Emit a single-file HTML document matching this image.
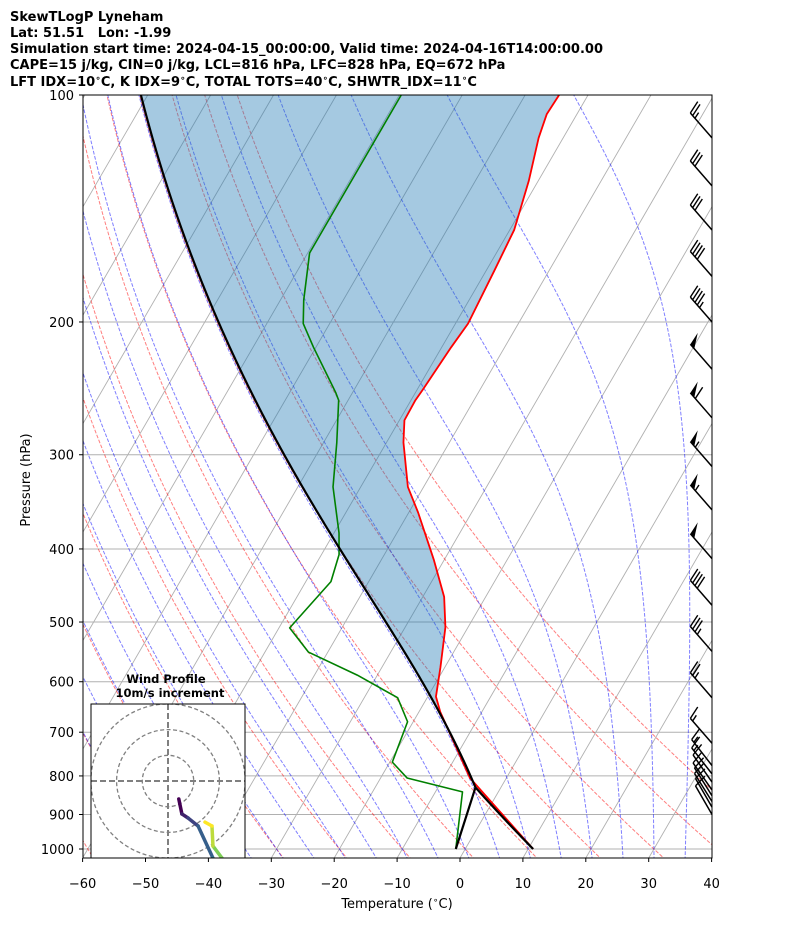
<!DOCTYPE html>
<html><head><meta charset="utf-8"><style>
html,body{margin:0;padding:0;background:#fff;}
svg{display:block;font-family:"DejaVu Sans","Liberation Sans",sans-serif;}
.pre{white-space:pre;}
</style></head><body>
<svg id="chart" width="794" height="937" viewBox="0 0 794 937" xmlns="http://www.w3.org/2000/svg">
<defs>
<clipPath id="plotClip"><rect x="83" y="95" width="629" height="763"/></clipPath>
<clipPath id="hodoClip"><rect x="91" y="704" width="154" height="154"/></clipPath>
</defs>
<g font-weight="bold" font-size="13" fill="#000">
<text x="10" y="21">SkewTLogP Lyneham</text>
<text x="10" y="37" class="pre">Lat: 51.51   Lon: -1.99</text>
<text x="10" y="53">Simulation start time: 2024-04-15_00:00:00, Valid time: 2024-04-16T14:00:00.00</text>
<text x="10" y="69">CAPE=15 j/kg, CIN=0 j/kg, LCL=816 hPa, LFC=828 hPa, EQ=672 hPa</text>
<text x="10" y="86">LFT IDX=10<tspan font-size="9" dy="-5">∘</tspan><tspan dy="5">C, K IDX=9</tspan><tspan font-size="9" dy="-5">∘</tspan><tspan dy="5">C, TOTAL TOTS=40</tspan><tspan font-size="9" dy="-5">∘</tspan><tspan dy="5">C, SHWTR_IDX=11</tspan><tspan font-size="9" dy="-5">∘</tspan><tspan dy="5">C</tspan></text>
</g>
<rect x="83" y="95" width="629" height="763" fill="#fff"/>
<g id="bg" clip-path="url(#plotClip)"></g>
<g id="series" clip-path="url(#plotClip)"></g>
<g id="barbs"></g>
<rect x="83" y="95" width="629" height="763" fill="none" stroke="#000" stroke-width="1"/>
<g id="axes" font-size="13" fill="#000"></g>
<text x="397" y="908" font-size="13" text-anchor="middle">Temperature (<tspan font-size="9" dy="-5">∘</tspan><tspan dy="5">C)</tspan></text>
<text transform="translate(30,480) rotate(-90)" font-size="13" text-anchor="middle">Pressure (hPa)</text>
<g id="hodo">
<text x="166" y="683" font-size="11.5" font-weight="bold" text-anchor="middle">Wind Profile</text>
<text x="170" y="697" font-size="11.5" font-weight="bold" text-anchor="middle">10m/s increment</text>
<rect x="91" y="704" width="154" height="154" fill="#fff" stroke="none"/>
</g>
</svg>
<script>
// ---- data ----
const envP=[1000,805,658,628,574,508,463,414,358,331,289,270,254,246,216,201,171,151,130,114,106,100];
const envT=[10.8,-5.8,-16.6,-18.7,-20.7,-23.6,-26.6,-31.6,-38.5,-42.5,-47.3,-49.2,-49.3,-49.1,-48.5,-48.0,-48.7,-49.3,-51.5,-53.9,-54.8,-54.6];
const dewP=[1000,840,805,767,678,630,588,548,509,442,407,381,331,289,254,248,216,201,187,162,144,115,100];
const dewT=[-1.5,-5.7,-15.8,-19.6,-20.9,-24.7,-33.2,-43.1,-48.3,-46.0,-47.2,-49.2,-54.4,-57.9,-61.5,-62.7,-70.4,-74.2,-76.3,-79.7,-79.7,-79.7,-79.7];
const barbP=[114,132,151,174,200,231,268,311,355,412,475,547,630,724,775,795,815,835,850,865,880,900];
const barbSpd=[25,30,30,40,45,50,60,55,55,50,40,35,25,15,15,15,10,10,10,10,10,10];
const barbDir=[319,319,319,319,319,319,319,319,319,319,319,319,319,319,322,322,325,325,328,328,330,330];
const hodoU=[4.2,5.4,7.8,11.7,17.5,25,28,24,21,17.5,17.1,14.4];
const hodoV=[-7.0,-12.8,-14.4,-17.5,-30,-45,-45,-38,-30,-25.3,-17.5,-16];
const xTicks=[-60,-50,-40,-30,-20,-10,0,10,20,30,40];
const yTicks=[100,200,300,400,500,600,700,800,900,1000];
const dryT0=[-60,-50,-40,-30,-20,-10,0,10,20,30,40,50];
const moistT0=[-50,-45,-40,-35,-30,-25,-20,-15,-10,-5,0,5,10,15,20,25,30,35];

// ---- scales ----
const NS="http://www.w3.org/2000/svg";
const SK=0.58;
function Y(p){return 95+754*Math.log10(p/100);}
function X(T,p){return 460+6.29*T+SK*(858-Y(p));}
function mk(tag,attrs,parent){const e=document.createElementNS(NS,tag);for(const k in attrs)e.setAttribute(k,attrs[k]);parent.appendChild(e);return e;}
function pathD(pts){return pts.map((q,i)=>(i?'L':'M')+q[0].toFixed(2)+','+q[1].toFixed(2)).join('');}
const bg=document.getElementById('bg'),series=document.getElementById('series'),axes=document.getElementById('axes');
const PBOT=1035;

// thermo
const Rd=287.04,Cp=1005.7,Lv=2.501e6,eps=0.622;
function es(Tk){const c=Tk-273.15;return 6.112*Math.exp(17.67*c/(c+243.5));}
function dTdp(Tk,p){const e=es(Tk);const rs=eps*e/(p-e);return (Rd*Tk+Lv*rs)/(p*(Cp+Lv*Lv*rs*eps/(Rd*Tk*Tk)));}
function moistPath(Tk0,p0,pEnd,step){const out=[[p0,Tk0]];let T=Tk0,p=p0;const s=pEnd<p0?-Math.abs(step):Math.abs(step);
 while((s<0&&p>pEnd)||(s>0&&p<pEnd)){let h=s;if(s<0&&p+h<pEnd)h=pEnd-p;if(s>0&&p+h>pEnd)h=pEnd-p;
  const k1=dTdp(T,p),k2=dTdp(T+h/2*k1,p+h/2),k3=dTdp(T+h/2*k2,p+h/2),k4=dTdp(T+h*k3,p+h);
  T+=h/6*(k1+2*k2+2*k3+k4);p+=h;out.push([p,T]);}return out;}

// pressure grid lines
yTicks.forEach(p=>{const l=mk('line',{x1:83,x2:712,y1:Y(p),y2:Y(p),stroke:'#b0b0b0','stroke-width':1},bg);

});
// isotherms
for(let T=-160;T<=50;T+=10){const l=mk('line',{x1:X(T,PBOT),y1:Y(PBOT),x2:X(T,100),y2:Y(100),stroke:'#b0b0b0','stroke-width':0.9},bg);

}
// dry adiabats
dryT0.forEach(t0=>{const pts=[];for(let p=PBOT;p>=99;p-=5){const T=(t0+273.15)*Math.pow(p/1000,0.2857)-273.15;pts.push([X(T,p),Y(p)]);}
const l=mk('path',{d:pathD(pts),fill:'none',stroke:'#ff0000','stroke-opacity':0.5,'stroke-width':1,'stroke-dasharray':'3.7 1.6'},bg);

});
// moist adiabats
moistT0.forEach(t0=>{const up=moistPath(t0+273.15,1000,100,-5);const dn=moistPath(t0+273.15,1000,PBOT,5);
const all=dn.reverse().concat(up.slice(1));const pts=all.map(q=>[X(q[1]-273.15,q[0]),Y(q[0])]);
const l=mk('path',{d:pathD(pts),fill:'none',stroke:'#0000ff','stroke-opacity':0.5,'stroke-width':1,'stroke-dasharray':'3.7 1.6'},bg);

});

// parcel
const T0=envT[0]+273.15,Td0=dewT[0]+273.15,p0=envP[0];
const Tlcl=1/(1/(Td0-56)+Math.log(T0/Td0)/800)+56;
const plcl=p0*Math.pow(Tlcl/T0,1/0.2857);
function parcelT(p){return T0*Math.pow(p/p0,0.2857)-273.15;}
const moistPar=moistPath(Tlcl,plcl,100,-2);
function parcelAt(p){if(p>=plcl)return parcelT(p);for(let i=1;i<moistPar.length;i++){if(moistPar[i][0]<=p){const a=moistPar[i-1],b=moistPar[i];const f=(Math.log(p)-Math.log(a[0]))/(Math.log(b[0])-Math.log(a[0]));return a[1]+f*(b[1]-a[1])-273.15;}}return moistPar[moistPar.length-1][1]-273.15;}
function interp(P,V,p){for(let i=1;i<P.length;i++){if(P[i]<=p){const f=(Math.log(p)-Math.log(P[i-1]))/(Math.log(P[i])-Math.log(P[i-1]));return V[i-1]+f*(V[i]-V[i-1]);}}return V[V.length-1];}

// shading between parcel and environment
let run=[];const runs=[];
for(let p=1000;p>=100;p-=1){const te=interp(envP,envT,p),tp=parcelAt(p);if(te>tp+0.05){run.push([p,te,tp]);}else if(run.length){runs.push(run);run=[];}}
if(run.length)runs.push(run);
runs.forEach(r=>{const a=r.map(q=>[X(q[1],q[0]),Y(q[0])]);const b=r.slice().reverse().map(q=>[X(q[2],q[0]),Y(q[0])]);
const s=mk('path',{d:pathD(a.concat(b))+'Z',fill:'#1f77b4','fill-opacity':0.4,stroke:'none'},series);

});

// env temperature
const tl=mk('path',{d:pathD(envP.map((p,i)=>[X(envT[i],p),Y(p)])),fill:'none',stroke:'#ff0000','stroke-width':1.8,'stroke-linejoin':'round'},series);


const dl=mk('path',{d:pathD(dewP.map((p,i)=>[X(dewT[i],p),Y(p)])),fill:'none',stroke:'#008000','stroke-width':1.6,'stroke-linejoin':'round'},series);


// parcel profile
const pp=[];for(let p=1000;p>plcl;p-=5)pp.push([X(parcelT(p),p),Y(p)]);
moistPar.forEach(q=>pp.push([X(q[1]-273.15,q[0]),Y(q[0])]));
const pl=mk('path',{d:pathD(pp),fill:'none',stroke:'#000','stroke-width':2.2,'stroke-linejoin':'round'},series);


const pdl=mk('path',{d:pathD([[X(dewT[0],1000),Y(1000)],[X(Tlcl-273.15,plcl),Y(plcl)]]),fill:'none',stroke:'#000','stroke-width':2.2},series);



// wind barbs
const barbs=document.getElementById('barbs');
barbP.forEach((p,i)=>{const d=barbDir[i]*Math.PI/180;const sx=Math.sin(d),sy=-Math.cos(d);const px=-sy,py=sx;
 const bx=712,by=Y(p),L=33;const tx=bx+sx*L,ty=by+sy*L;const g=mk('g',{},barbs);
 
 
 mk('line',{x1:bx,y1:by,x2:tx,y2:ty,stroke:'#000','stroke-width':1.5},g);
 let spd=Math.round(barbSpd[i]/5)*5;let pos=0;const fa=13,fb=3.7;
 while(spd>=50){const ax=tx-sx*pos,ay=ty-sy*pos;const cx=tx-sx*(pos+6),cy=ty-sy*(pos+6);
  mk('polygon',{points:`${ax},${ay} ${ax+px*fa+sx*fb},${ay+py*fa+sy*fb} ${cx},${cy}`,fill:'#000'},g);pos+=7.5;spd-=50;}
 while(spd>=10){const ax=tx-sx*pos,ay=ty-sy*pos;mk('line',{x1:ax,y1:ay,x2:ax+px*fa+sx*fb,y2:ay+py*fa+sy*fb,stroke:'#000','stroke-width':1.4},g);pos+=3.5;spd-=10;}
 if(spd>=5){if(pos===0)pos=3.5;const ax=tx-sx*pos,ay=ty-sy*pos;mk('line',{x1:ax,y1:ay,x2:ax+px*fa/2+sx*fb/2,y2:ay+py*fa/2+sy*fb/2,stroke:'#000','stroke-width':1.4},g);}
});

// axes ticks & labels
xTicks.forEach(t=>{const x=460+6.29*t;mk('line',{x1:x,x2:x,y1:858,y2:862,stroke:'#000'},axes);
 const tx=mk('text',{x:x,y:888,'text-anchor':'middle'},axes);tx.textContent=(t<0?'\u2212':'')+Math.abs(t);
 
 });
yTicks.forEach(p=>{const y=Y(p);mk('line',{x1:79,x2:83,y1:y,y2:y,stroke:'#000'},axes);
 const tx=mk('text',{x:74,y:y+5,'text-anchor':'end'},axes);tx.textContent=p;
 
 });

// hodograph
const hodo=document.getElementById('hodo');const hc=[168,781],hs=2.57;
const hg=mk('g',{'clip-path':'url(#hodoClip)'},hodo);
[10,20,30].forEach(r=>{const c=mk('circle',{cx:hc[0],cy:hc[1],r:r*hs,fill:'none',stroke:'#808080','stroke-width':1.3,'stroke-dasharray':'4 2.5'},hg);

});
mk('line',{x1:91,x2:245,y1:hc[1],y2:hc[1],stroke:'#808080','stroke-width':2,'stroke-dasharray':'6 3'},hg);
mk('line',{x1:hc[0],x2:hc[0],y1:704,y2:858,stroke:'#808080','stroke-width':2,'stroke-dasharray':'6 3'},hg);
const vir=[[68,1,84],[59,82,139],[33,145,140],[94,201,98],[253,231,37]];
function vcol(f){const s=f*(vir.length-1),i=Math.min(vir.length-2,Math.floor(s)),t=s-i;const a=vir[i],b=vir[i+1];return 'rgb('+a.map((v,k)=>Math.round(v+(b[k]-v)*t)).join(',')+')';}
for(let i=0;i<hodoU.length-1;i++){const l=mk('line',{x1:hc[0]+hodoU[i]*hs,y1:hc[1]-hodoV[i]*hs,x2:hc[0]+hodoU[i+1]*hs,y2:hc[1]-hodoV[i+1]*hs,stroke:vcol(i/(hodoU.length-2)),'stroke-width':3.5,'stroke-linecap':'round'},hg);

}
mk('rect',{x:91,y:704,width:154,height:154,fill:'none',stroke:'#000','stroke-width':1},hodo);
</script>
</body></html>
